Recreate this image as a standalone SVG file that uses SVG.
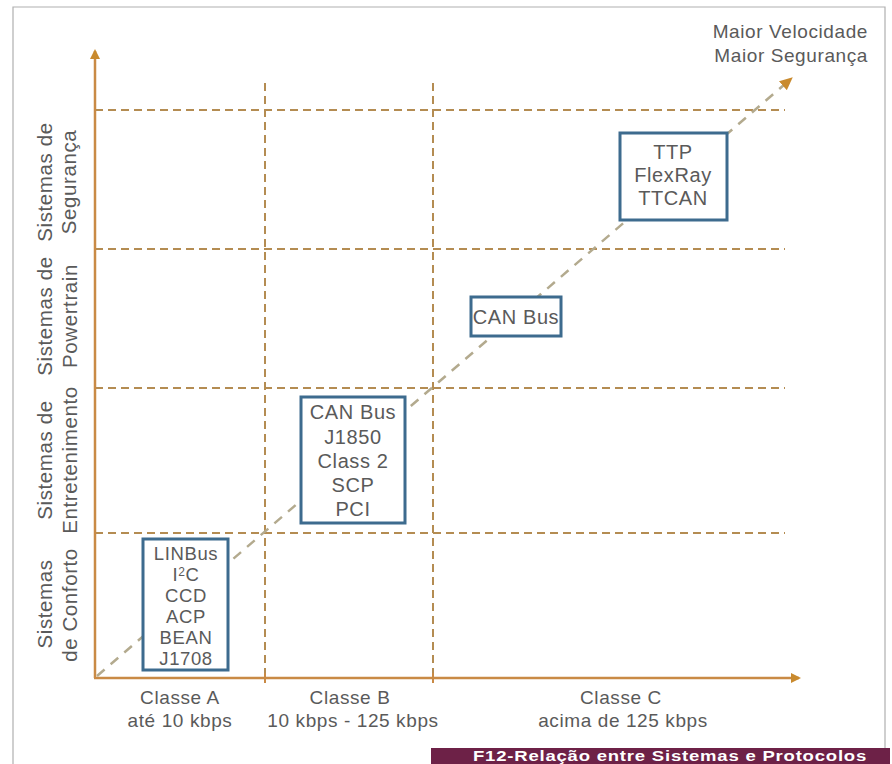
<svg xmlns="http://www.w3.org/2000/svg" width="892" height="764" viewBox="0 0 892 764">
<style>
text{font-family:"Liberation Sans",Arial,sans-serif;fill:#5a5a5a;letter-spacing:0.6px}
.lbl{font-size:19px;text-anchor:middle}
.bx{font-size:20px;text-anchor:middle}
.bs{font-size:18.5px;text-anchor:middle}
.yl{font-size:20.5px;text-anchor:middle}
.box{fill:#fff;stroke:#3d6b8e;stroke-width:3}
.grid{stroke:#b48c52;stroke-width:2;stroke-dasharray:8 5;fill:none}
.axis{stroke:#c98a45;stroke-width:2.5;fill:none}
</style>
<defs>
<marker id="ah" markerWidth="10" markerHeight="10" refX="8" refY="5" orient="auto" markerUnits="userSpaceOnUse">
<path d="M0,0 L10,5 L0,10 z" fill="#c98a2e"/>
</marker>
<marker id="ahd" markerWidth="14" markerHeight="14" refX="12" refY="7" orient="auto" markerUnits="userSpaceOnUse">
<path d="M0,1 L13,7 L0,13 z" fill="#c98a2e"/>
</marker>
</defs>
<rect width="892" height="764" fill="#fff"/>
<path d="M13,764 V7 H885 V764" fill="none" stroke="#b0b0b0" stroke-width="1.2"/>

<g id="connectors">
<line class="grid" x1="95" y1="110" x2="785" y2="110"/>
<line class="grid" x1="95" y1="249" x2="785" y2="249"/>
<line class="grid" x1="95" y1="388" x2="785" y2="388"/>
<line class="grid" x1="95" y1="533" x2="785" y2="533"/>
<line class="grid" x1="265" y1="83" x2="265" y2="678"/>
<line class="grid" x1="433" y1="83" x2="433" y2="678"/>
<line x1="97" y1="676" x2="792" y2="78" stroke="#b3aa8e" stroke-width="2.5" stroke-dasharray="10 8" marker-end="url(#ahd)"/>
<line class="axis" x1="95" y1="678" x2="95" y2="51" marker-end="url(#ah)"/>
<line class="axis" x1="94" y1="678" x2="799" y2="678" marker-end="url(#ah)"/>
<line x1="265" y1="673" x2="265" y2="683" stroke="#c98a45" stroke-width="2"/>
<line x1="433" y1="673" x2="433" y2="683" stroke="#c98a45" stroke-width="2"/>
</g>

<g id="n-classA">
<rect class="box" x="143" y="539" width="85" height="131"/>
<text class="bs" x="186" y="560">LINBus</text>
<text class="bs" x="186" y="581">I<tspan font-size="12" dy="-5">2</tspan><tspan dy="5">C</tspan></text>
<text class="bs" x="186" y="602">CCD</text>
<text class="bs" x="186" y="623">ACP</text>
<text class="bs" x="186" y="644">BEAN</text>
<text class="bs" x="186" y="665">J1708</text>
</g>

<g id="n-classB">
<rect class="box" x="301" y="397" width="104" height="126"/>
<text class="bx" x="353" y="419">CAN Bus</text>
<text class="bx" x="353" y="444">J1850</text>
<text class="bx" x="353" y="468">Class 2</text>
<text class="bx" x="353" y="492">SCP</text>
<text class="bx" x="353" y="516">PCI</text>
</g>

<g id="n-canbus">
<rect class="box" x="471" y="297" width="90" height="39"/>
<text class="bx" x="516" y="324">CAN Bus</text>
</g>

<g id="n-classC">
<rect class="box" x="620" y="133" width="107" height="87"/>
<text class="bx" x="673" y="159">TTP</text>
<text class="bx" x="673" y="182">FlexRay</text>
<text class="bx" x="673" y="205">TTCAN</text>
</g>

<g id="y-labels">
<text class="yl" transform="translate(52,182) rotate(-90)">Sistemas de</text>
<text class="yl" transform="translate(76,182) rotate(-90)">Segurança</text>
<text class="yl" transform="translate(52,316) rotate(-90)">Sistemas de</text>
<text class="yl" transform="translate(77,316) rotate(-90)">Powertrain</text>
<text class="yl" transform="translate(52,460) rotate(-90)">Sistemas de</text>
<text class="yl" transform="translate(77,460) rotate(-90)">Entretenimento</text>
<text class="yl" transform="translate(52,604) rotate(-90)">Sistemas</text>
<text class="yl" transform="translate(77,605) rotate(-90)">de Conforto</text>
</g>

<g id="x-labels">
<text class="lbl" x="180" y="704">Classe A</text>
<text class="lbl" x="180" y="727">até 10 kbps</text>
<text class="lbl" x="350" y="704">Classe B</text>
<text class="lbl" x="353" y="727">10 kbps - 125 kbps</text>
<text class="lbl" x="621" y="704">Classe C</text>
<text class="lbl" x="623" y="727">acima de 125 kbps</text>
</g>

<g id="title">
<text x="868" y="38" font-size="19" text-anchor="end">Maior Velocidade</text>
<text x="868" y="62" font-size="19" text-anchor="end">Maior Segurança</text>
</g>

<g id="caption">
<rect x="431" y="748" width="459" height="16" fill="#6d2147"/>
<text x="473" y="761" font-size="14" font-weight="bold" style="fill:#fff" textLength="394" lengthAdjust="spacingAndGlyphs">F12-Relação entre Sistemas e Protocolos</text>
</g>
</svg>
